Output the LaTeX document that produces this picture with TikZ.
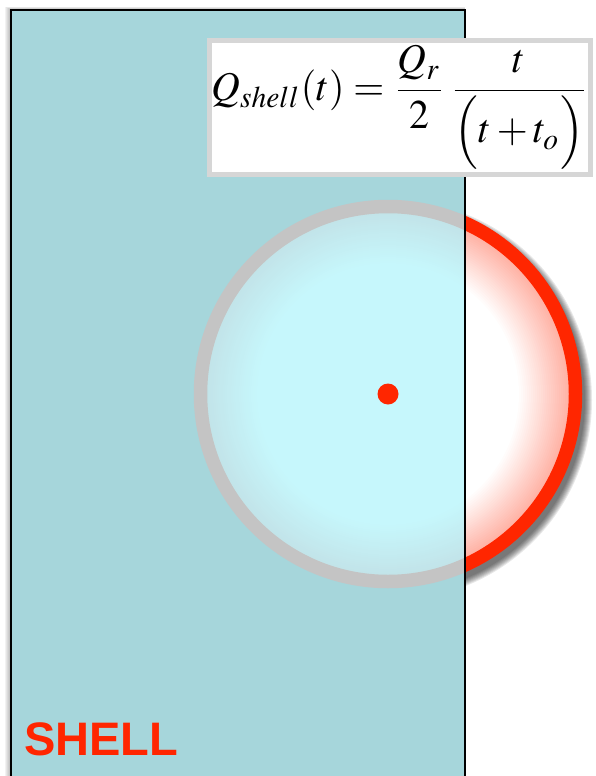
\documentclass[tikz,border=0pt]{standalone}
\usepackage{mathptmx}
\usepackage[no-math]{fontspec}
\usepackage{graphicx}
\newfontfamily\shellfont{Liberation Sans}
\usetikzlibrary{calc}
\definecolor{shellteal}{HTML}{A6D6DB}
\definecolor{corecyan}{HTML}{C6F7FC}
\definecolor{coreedge}{HTML}{C2E4E9}
\definecolor{ringgray}{HTML}{C4C4C4}
\definecolor{ringred}{HTML}{FF2600}
\definecolor{boxgray}{HTML}{D6D6D6}

\begin{document}
\begin{tikzpicture}[x=1pt,y=-1pt,
    ring/.style={line width=13.5pt},
    softshadow/.style={black,opacity=0.05}]
            \clip (0,0) rectangle (595,776);
            \coordinate (centre) at (388,394);
            \coordinate (shadowc) at (392,400);
            \coordinate (slabnw) at (11,10);
            \coordinate (slabse) at (465,800);
            % shadows under the slab and the bubble
            \foreach \k in {1,...,8}
                \fill[black,opacity=0.09] (shadowc) circle ({192+\k});
            \foreach \k in {1,...,6}
                \fill[softshadow] ($(slabnw)+(-\k,-\k/2)$) rectangle (slabse);
            \fill[shellteal] (slabnw) rectangle (slabse);
            % part of the bubble inside the shell
            \begin{scope}
                \clip (slabnw) rectangle (slabse);
                \fill[coreedge] (centre) circle (188);
                \foreach \k in {0,...,25}{
                    \pgfmathsetmacro{\mix}{100-4*\k}
                    \fill[coreedge!\mix!corecyan] (centre) circle ({181-2*\k});
                }
                \draw[ring, ringgray] (centre) circle (187.5);
            \end{scope}
            % part of the bubble outside
            \begin{scope}
                \clip (465,0) rectangle (595,776);
                \fill[ringred!35!white] (centre) circle (188);
                \foreach \k in {0,...,25}{
                    \pgfmathsetmacro{\mix}{35-1.4*\k}
                    \fill[ringred!\mix!white] (centre) circle ({181-2*\k});
                }
                \draw[ring, ringred] (centre) circle (187.5);
            \end{scope}
            \draw[line width=1.8pt] (slabnw) rectangle (slabse);
            \node[circle, fill=ringred, minimum size=21pt, inner sep=0pt] (source) at (centre) {};
            \node[draw=boxgray, line width=5pt, fill=white, minimum width=381pt,
                minimum height=134pt, inner sep=0pt] (formula) at (400,107.5)
                {\resizebox*{377pt}{124pt}{$\displaystyle Q_{shell}(t)=\frac{Q_r}{2}\,\frac{t}{\Bigl(t+t_o\Bigr)}$}};
            \node[anchor=base west, inner sep=0pt, text=ringred,
                font=\shellfont\bfseries\fontsize{47}{47}\selectfont] (label) at (24,755) {SHELL};
\end{tikzpicture}
\end{document}
